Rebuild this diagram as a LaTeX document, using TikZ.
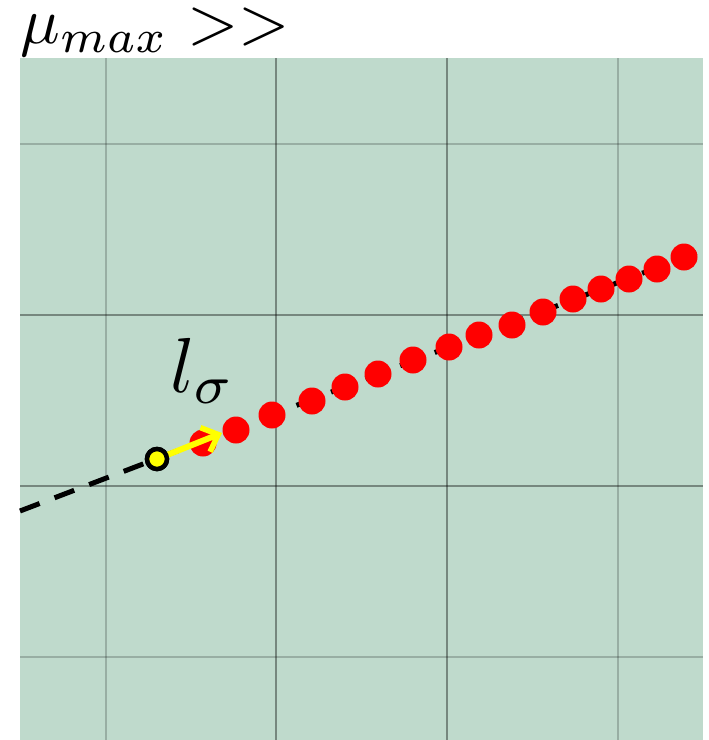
\documentclass[tikz,border=0pt]{standalone}
\usetikzlibrary{arrows.meta}
\definecolor{bggreen}{RGB}{191,218,204}
\definecolor{dotred}{RGB}{255,0,0}
\definecolor{arrowyellow}{RGB}{255,255,0}
\tikzset{
  majorline/.style={draw=black, draw opacity=0.38, line width=1.4pt},
  minorline/.style={draw=black, draw opacity=0.2, line width=2pt},
  trackline/.style={draw=black, line width=5pt, dash pattern=on 21pt off 16pt},
  reddot/.style={circle, fill=dotred, inner sep=0pt, minimum size=27pt},
  startpt/.style={circle, draw=black, line width=4.5pt, fill=arrowyellow, inner sep=0pt, minimum size=20pt},
  yarrow/.style={draw=arrowyellow, line width=6pt, -{Straight Barb[length=14pt,width=26pt,line width=5.5pt]}}
}
\begin{document}
\begin{tikzpicture}[x=1pt,y=-1pt]
\useasboundingbox (0,0) rectangle (709,740);
\fill[bggreen] (20,58) rectangle (703,740);
% grid
\foreach \g in {106,618} {\draw[minorline] (\g,58) -- (\g,740);}
\foreach \g in {144,657} {\draw[minorline] (20,\g) -- (703,\g);}
\foreach \g in {276,447} {\draw[majorline] (\g,58) -- (\g,740);}
\foreach \g in {315,486} {\draw[majorline] (20,\g) -- (703,\g);}
% track
\coordinate (lstart) at (20,511);
\coordinate (lend) at (703,250);
\draw[trackline] (lstart) -- (lend);
% dots
\foreach \x/\y [count=\i] in {203/443,236/430,272/415,312/401,345/387,378/374,413/360,449/347,479/335,512/325,543/312,573/299,601/289,629/279,657/269,684/257} {
  \node[reddot] (d\i) at (\x,\y) {};
}
\node[startpt] (s) at (157,459) {};
\coordinate (tip) at (222,433);
\draw[yarrow] (s.center) -- (tip);
\node[startpt] at (157,459) {};
% labels
\node[anchor=base west, inner sep=0pt, scale=7.8] (lsig) at (169,392) {$l_\sigma$};
\node[anchor=base west, inner sep=0pt, scale=6.6] (mu) at (19,43) {$\mu_{max} >>$};
\end{tikzpicture}
\end{document}
